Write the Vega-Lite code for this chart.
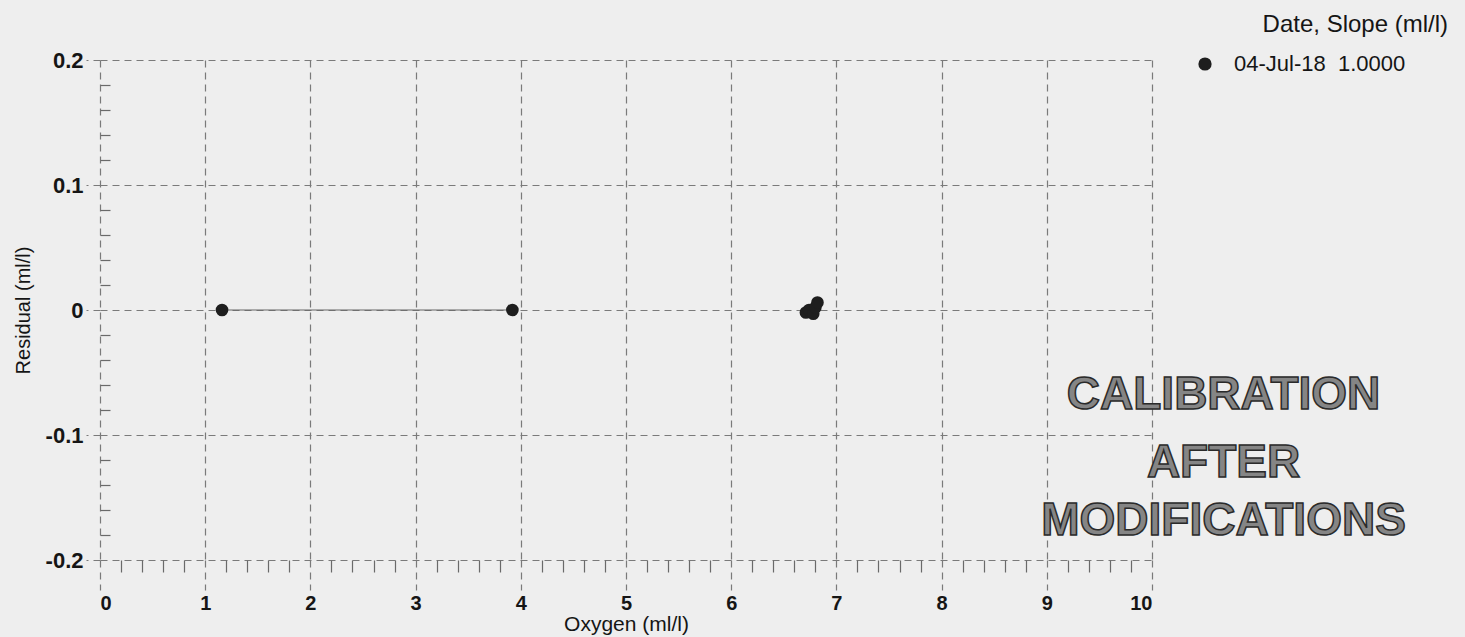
{
  "$schema": "https://vega.github.io/schema/vega-lite/v6.json",
  "width": 1052,
  "height": 500,
  "autosize": {"type": "none"},
  "padding": {"left": 100, "top": 60, "right": 313, "bottom": 77},
  "background": "#eeeeee",
  "config": {
    "view": {"stroke": null},
    "font": "Liberation Sans",
    "axis": {"labelColor": "#151515", "titleColor": "#151515", "labelFont": "Liberation Sans", "titleFont": "Liberation Sans"}
  },
  "title": {
    "text": "Date, Slope (ml/l)",
    "anchor": "end",
    "frame": "group",
    "dx": 296,
    "offset": 12,
    "fontSize": 24,
    "fontWeight": "normal",
    "color": "#151515",
    "font": "Liberation Sans"
  },
  "datasets": {
    "points": [
      {"oxygen": 1.16, "residual": 0.0, "series": "04-Jul-18\u00a0\u00a01.0000"},
      {"oxygen": 3.92, "residual": 0.0, "series": "04-Jul-18\u00a0\u00a01.0000"},
      {"oxygen": 6.71, "residual": -0.002, "series": "04-Jul-18\u00a0\u00a01.0000"},
      {"oxygen": 6.74, "residual": 0.0, "series": "04-Jul-18\u00a0\u00a01.0000"},
      {"oxygen": 6.78, "residual": -0.003, "series": "04-Jul-18\u00a0\u00a01.0000"},
      {"oxygen": 6.80, "residual": 0.002, "series": "04-Jul-18\u00a0\u00a01.0000"},
      {"oxygen": 6.82, "residual": 0.006, "series": "04-Jul-18\u00a0\u00a01.0000"}
    ],
    "fit": [
      {"oxygen": 1.16, "residual": 0.0},
      {"oxygen": 3.92, "residual": 0.0}
    ],
    "note": [
      {"line": "CALIBRATION", "oxygen": 10.68, "residual": -0.068},
      {"line": "AFTER", "oxygen": 10.68, "residual": -0.122},
      {"line": "MODIFICATIONS", "oxygen": 10.68, "residual": -0.169}
    ]
  },
  "resolve": {"axis": {"x": "independent", "y": "independent"}},
  "layer": [
    {
      "data": {"name": "fit"},
      "mark": {"type": "line", "color": "#666666", "strokeWidth": 1.1},
      "encoding": {
        "x": {"field": "oxygen", "type": "quantitative", "scale": {"domain": [0, 10], "nice": false, "zero": false},
          "axis": {"orient": "bottom", "title": null, "labels": false, "grid": false, "domain": false,
            "values": [0.2,0.4,0.6,0.8,1.2,1.4,1.6,1.8,2.2,2.4,2.6,2.8,3.2,3.4,3.6,3.8,4.2,4.4,4.6,4.8,5.2,5.4,5.6,5.8,6.2,6.4,6.6,6.8,7.2,7.4,7.6,7.8,8.2,8.4,8.6,8.8,9.2,9.4,9.6,9.8],
            "tickSize": 12, "tickColor": "#6a6a6a", "tickWidth": 1.2}},
        "y": {"field": "residual", "type": "quantitative", "scale": {"domain": [-0.2, 0.2], "nice": false, "zero": false},
          "axis": {"orient": "left", "title": null, "labels": false, "grid": false, "domain": false,
            "values": [-0.18,-0.16,-0.14,-0.12,-0.08,-0.06,-0.04,-0.02,0.02,0.04,0.06,0.08,0.12,0.14,0.16,0.18],
            "tickSize": -10, "tickColor": "#6a6a6a", "tickWidth": 1.2}}
      }
    },
    {
      "data": {"name": "points"},
      "mark": {"type": "point", "shape": "circle", "filled": true, "opacity": 1, "size": 160},
      "encoding": {
        "x": {"field": "oxygen", "type": "quantitative", "scale": {"domain": [0, 10], "nice": false, "zero": false},
          "axis": {"orient": "bottom", "title": "Oxygen (ml/l)", "values": [0,1,2,3,4,5,6,7,8,9,10], "format": "d",
            "grid": true, "gridDash": [7, 5], "gridColor": "#7a7a7a", "gridWidth": 1.2,
            "tickSize": 30, "tickDash": [7, 5], "tickColor": "#7a7a7a", "tickWidth": 1.2, "domain": false,
            "labelFontSize": 20, "labelFontWeight": "bold", "labelPadding": 3,
            "titleFontSize": 21, "titleFontWeight": "normal", "titlePadding": 0}},
        "y": {"field": "residual", "type": "quantitative", "scale": {"domain": [-0.2, 0.2], "nice": false, "zero": false},
          "axis": {"orient": "left", "title": "Residual (ml/l)", "values": [-0.2,-0.1,0,0.1,0.2],
            "labelExpr": "replace(format(datum.value, '.1~f'), '\u2212', '-')",
            "grid": true, "gridDash": [7, 5], "gridColor": "#7a7a7a", "gridWidth": 1.2,
            "tickSize": 14, "tickDash": [7, 5], "tickColor": "#7a7a7a", "tickWidth": 1.2, "domain": false,
            "labelFontSize": 22, "labelFontWeight": "bold", "labelPadding": 3,
            "titleFontSize": 20, "titleFontWeight": "normal", "titlePadding": 12}},
        "color": {"field": "series", "type": "nominal", "scale": {"range": ["#1e1e1e"]},
          "legend": {"title": null, "orient": "none", "legendX": 1094, "legendY": -7, "labelFontSize": 22,
            "labelLimit": 400, "labelColor": "#151515", "symbolSize": 175, "symbolType": "circle", "labelOffset": 18, "labelFont": "Liberation Sans"}}
      }
    },
    {
      "data": {"name": "note"},
      "mark": {"type": "text", "align": "center", "baseline": "middle", "fontSize": 46, "fontWeight": "bold",
        "font": "Liberation Sans", "fill": "#858585", "stroke": "#2a2a2a", "strokeWidth": 1.5},
      "encoding": {
        "x": {"field": "oxygen", "type": "quantitative", "axis": null},
        "y": {"field": "residual", "type": "quantitative", "axis": null},
        "text": {"field": "line"}
      }
    }
  ]
}
